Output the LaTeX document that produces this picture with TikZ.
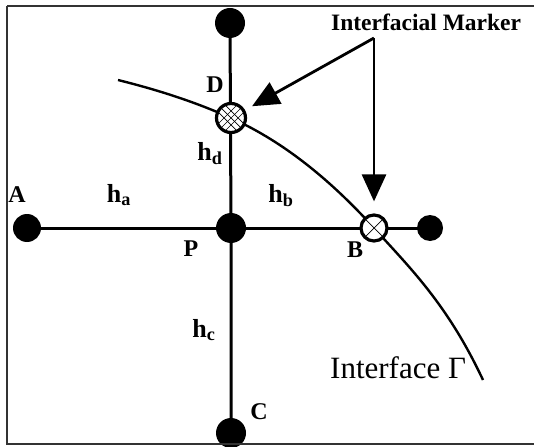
\documentclass[tikz,border=0pt]{standalone}
\usepackage{fontspec}
\setmainfont{Liberation Serif}
\usetikzlibrary{arrows.meta}
\tikzset{
  grid/.style={line width=3pt},
  curve/.style={line width=2.4pt},
  dot/.style={circle, fill=black, inner sep=0pt, minimum size=#1},
  marker/.style={circle, draw=black, line width=3.2pt, fill=white, inner sep=0pt, minimum size=26pt,
    path picture={
      \draw[line width=0.7pt] (path picture bounding box.north west) -- (path picture bounding box.south east)
        (path picture bounding box.north east) -- (path picture bounding box.south west);
    }},
  markerdense/.style={marker,
    path picture={
      \foreach \o in {-7,0,7}{
      \draw[line width=0.7pt] ([xshift=\o pt]path picture bounding box.north west) -- ([xshift=\o pt]path picture bounding box.south east)
        ([xshift=\o pt]path picture bounding box.north east) -- ([xshift=\o pt]path picture bounding box.south west);}
    }},
  ptlabel/.style={font=\fontsize{24}{26}\selectfont\bfseries, inner sep=0pt},
  hlabel/.style={font=\fontsize{26}{28}\selectfont\bfseries, inner sep=0pt},
  pointer/.style={line width=2.8pt, -{Triangle[length=27pt,width=24pt]}},
  frame/.style={line width=2pt, draw=black!80},
}
\begin{document}
\begin{tikzpicture}[x=1pt, y=-1pt]
\useasboundingbox (0,0) rectangle (534,446);
\clip (0,0) rectangle (534,446);
% grid points
\node[dot=28pt] (nA) at (27,228) {};
\node[dot=30pt] (nP) at (231,228) {};
\node[dot=26pt] (nR) at (430,228) {};
\node[dot=30pt] (nT) at (230,23) {};
\node[dot=30pt] (nC) at (231,433) {};
% grid lines
\draw[grid] (nA.center) -- (nP.center) -- (nR.center);
\draw[grid] (nT.center) -- (nP.center) -- (nC.center);
% interface curve
\coordinate (mDc) at (231,118);
\coordinate (mBc) at (374,228);
\draw[curve] (118,80) .. controls (156,89.5) and (193,101) .. (mDc)
  .. controls (279,139.6) and (326,175) .. (mBc)
  .. controls (408,266) and (447,303) .. (483,380);
% markers
\node[markerdense, minimum size=29pt] (mD) at (mDc) {};
\node[marker] (mB) at (mBc) {};
% arrows
\coordinate (corner) at (374,38);
\draw[pointer, shorten >=8pt] (corner) -- (mD);
\draw[pointer, shorten >=12pt] (corner) -- (mB);
% labels
\node[font=\fontsize{23.5}{26}\selectfont\bfseries, inner sep=0pt, anchor=base west] (title) at (331,31) {Interfacial Marker};
\node[font=\fontsize{31}{33}\selectfont, inner sep=0pt, anchor=base west] (iface) at (330,378) {Interface Γ};
\node[ptlabel] (lA) at (17,195) {A};
\node[ptlabel] (lP) at (191,249) {P};
\node[ptlabel] (lD) at (215,85) {D};
\node[ptlabel] (lB) at (355,250) {B};
\node[ptlabel] (lC) at (259,412) {C};
\node[hlabel] (ha) at (119,195) {h\textsubscript{a}};
\node[hlabel] (hb) at (281,196) {h\textsubscript{b}};
\node[hlabel] (hd) at (210,154) {h\textsubscript{d}};
\node[hlabel] (hc) at (204,330) {h\textsubscript{c}};
% frame
\draw[frame] (7,6) -- (560,6);
\draw[frame] (7,6) -- (7,444) -- (560,444);
\end{tikzpicture}
\end{document}
